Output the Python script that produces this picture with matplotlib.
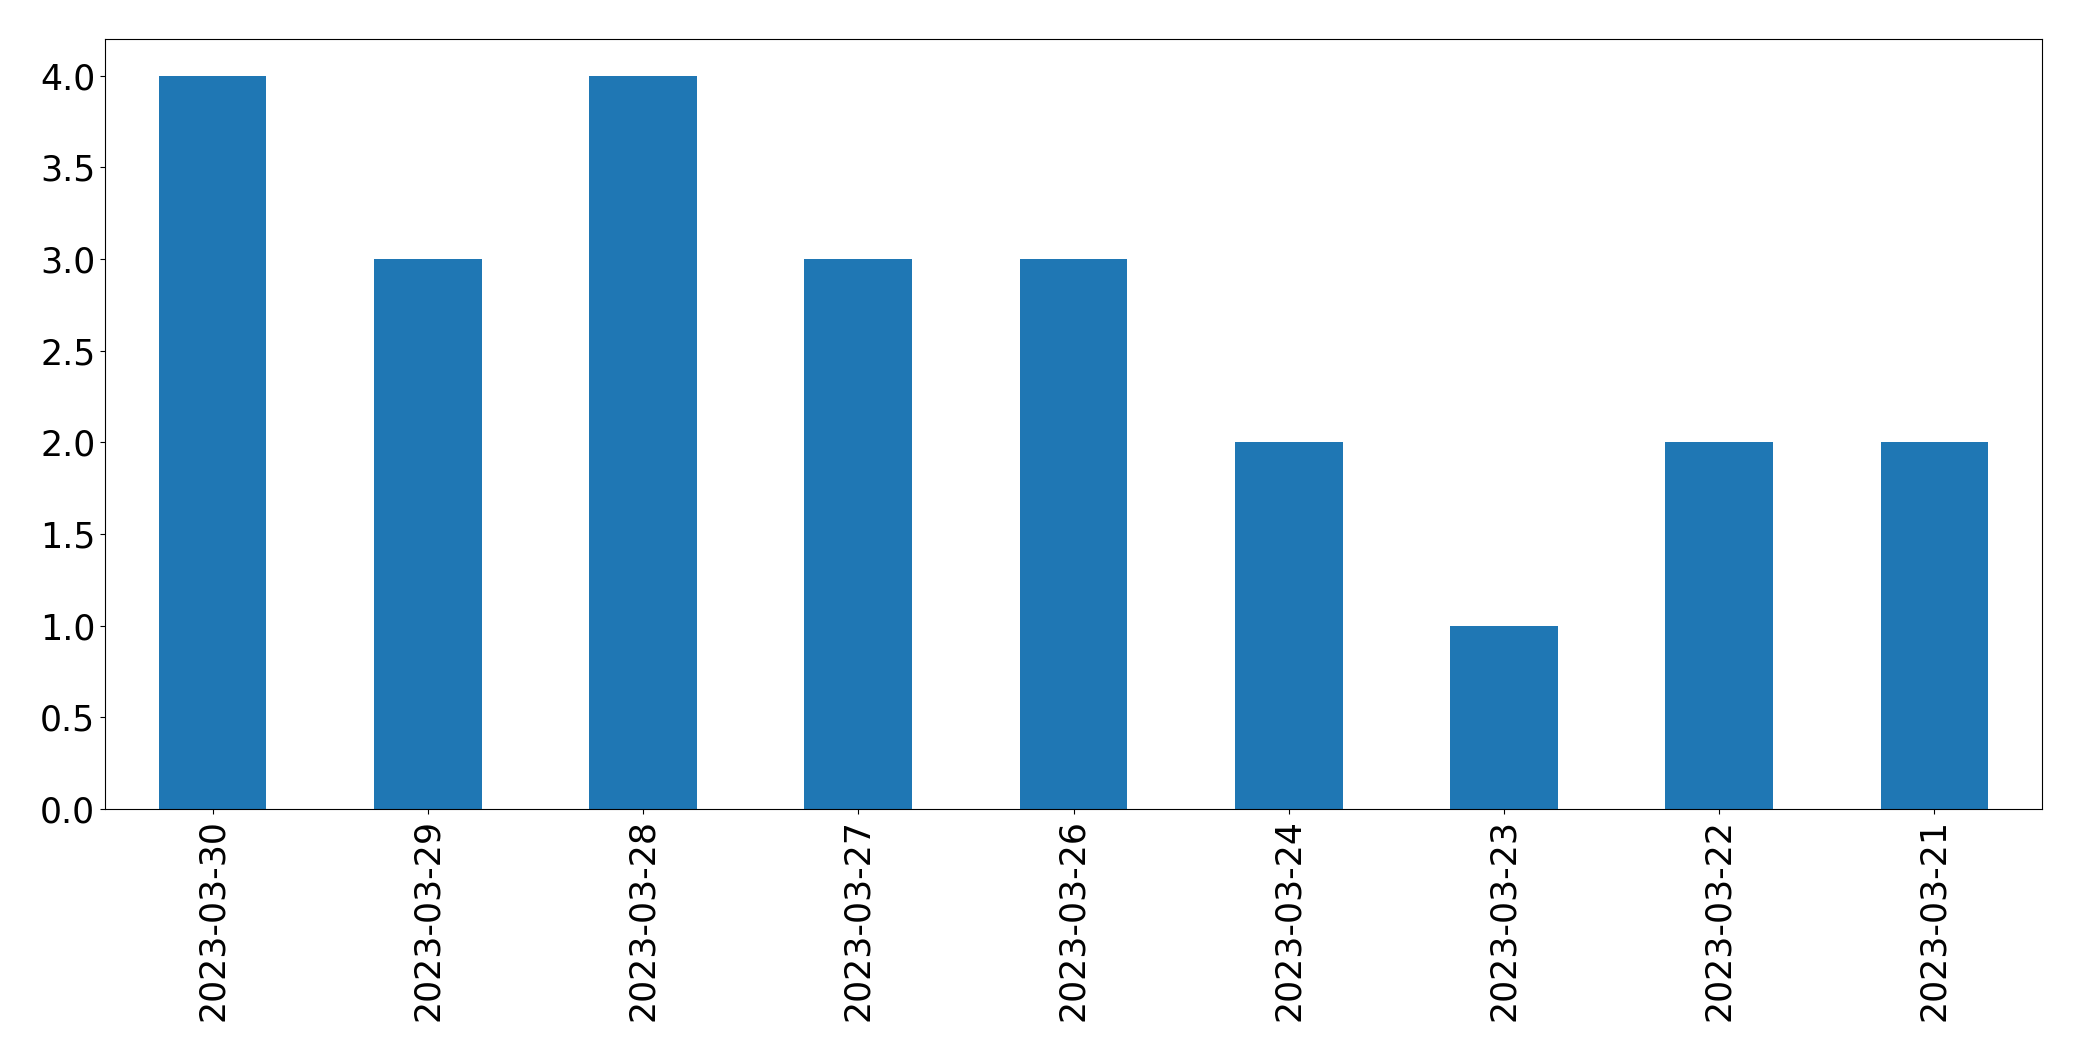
import matplotlib
matplotlib.use("Agg")
import matplotlib.pyplot as plt
import numpy as np

dates = ["2023-03-30", "2023-03-29", "2023-03-28", "2023-03-27", "2023-03-26",
         "2023-03-24", "2023-03-23", "2023-03-22", "2023-03-21"]
counts = [4, 3, 4, 3, 3, 2, 1, 2, 2]

fig = plt.figure(figsize = (20.82, 10.61), dpi = 100)
ax = fig.add_axes([105 / 2082, 1 - 809 / 1061, (2042 - 105) / 2082, (809 - 39) / 1061])

x = np.arange(len(dates))
ax.bar(x, counts, width = 0.5, color = "#1f77b4")
ax.set_xlim(-0.5, len(dates) - 0.5)
ax.set_ylim(0, 4.2)
ax.set_xticks(x)
ax.set_xticklabels(dates, rotation = 90)
ax.tick_params(labelsize = 25)

fig.savefig("out.png", dpi = 100)
